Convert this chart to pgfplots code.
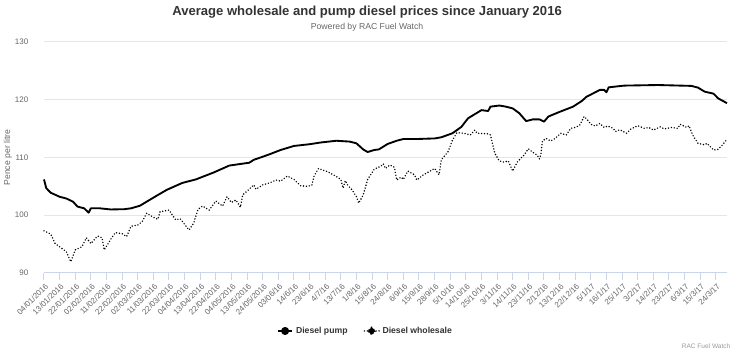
\documentclass[border=0pt]{standalone}
\usepackage{fontspec}
\setmainfont{Liberation Sans}
\usepackage{pgfplots}
\pgfplotsset{compat=1.18}
\definecolor{titlec}{HTML}{333333}
\definecolor{tickc}{HTML}{666666}
\definecolor{gridc}{HTML}{E6E6E6}
\definecolor{axisc}{HTML}{CCD6EB}
\definecolor{credc}{HTML}{999999}
\begin{document}
\begin{tikzpicture}
\begin{axis}[
  scale only axis, width=512.25pt, height=173.25pt,
  xmin=0, xmax=306, ymin=90, ymax=130,
  xtick={0,7,...,301},
  xticklabels={04/01/2016,13/01/2016,22/01/2016,02/02/2016,11/02/2016,22/02/2016,02/03/2016,11/03/2016,22/03/2016,04/04/2016,13/04/2016,22/04/2016,04/05/2016,13/05/2016,24/05/2016,03/06/16,14/6/16,23/6/16,4/7/16,13/7/16,1/8/16,15/8/16,24/8/16,6/9/16,15/9/16,28/9/16,5/10/16,14/10/16,25/10/16,3/11/16,14/11/16,23/11/16,2/12/16,13/12/16,22/12/16,5/1/17,16/1/17,25/1/17,3/2/17,14/2/17,23/2/17,6/3/17,15/3/17,24/3/17},
  ytick={90,100,...,130},
  axis x line*=bottom, axis y line*=left,
  y axis line style={draw=none},
  x axis line style={draw=axisc, line width=0.75pt, -},
  xtick style={draw=axisc, line width=0.75pt},
  ytick style={draw=none},
  tick align=outside,
  major tick length=5.25pt,
  ymajorgrids, grid style={draw=gridc, line width=0.75pt},
  xticklabel style={rotate=45, anchor=east, font=\fontsize{6}{7}\selectfont, text=tickc, inner sep=1pt, yshift=-4pt},
  yticklabel style={font=\fontsize{6}{7}\selectfont, text=tickc, xshift=-3pt},
  /pgf/number format/assume math mode=true,
  clip=false,
  legend columns=2,
  legend style={at={(0.471,-0.251)}, anchor=center, draw=none, fill=none,
    font=\fontsize{6.5}{8}\selectfont\bfseries, text=titlec,
    /tikz/every even column/.append style={column sep=10pt}},
]
\addplot[black, line width=1.4pt, line join=round,
  legend image code/.code={\draw[black, line width=1.4pt] (0pt,0pt) -- (11pt,0pt); \fill[black] (5.5pt,0pt) circle (2.3pt);}]
coordinates {
(0,106.2)(1,104.7)(3,103.9)(7,103.2)(10,102.9)(13,102.35)(15,101.5)(18,101.2)(20,100.45)(21,101.2)
(25,101.2)(30,101.0)(36,101.05)(39,101.2)(43,101.65)(46,102.35)(51,103.5)(55,104.4)(62,105.6)(68,106.2)
(76,107.4)(83,108.6)(92,109.1)(94,109.6)(97,110.0)(101,110.55)(106,111.3)(112,112.0)(119,112.3)(124,112.6)
(131,112.9)(137,112.75)(140,112.45)(143,111.4)(145,110.95)(148,111.3)(150,111.4)(154,112.35)(158,112.9)(161,113.2)
(167,113.2)(175,113.3)(178,113.5)(183,114.2)(187,115.3)(190,116.8)(196,118.2)(199,118.05)(200,118.8)(204,119.0)
(207,118.8)(210,118.5)(213,117.65)(216,116.3)(219,116.6)(222,116.6)(224,116.2)(226,117.1)(231,117.9)(237,118.8)
(241,119.8)(243,120.5)(249,121.7)(251,121.7)(252,121.3)(253,122.15)(260,122.45)(275,122.55)(290,122.4)(293,122.1)
(296,121.4)(300,121.05)(302,120.25)(306,119.4)
};
\addlegendentry{Diesel pump}
\addplot[black, line width=1.2pt, line cap=round, dash pattern=on 0pt off 2.2pt,
  legend image code/.code={\draw[black, line width=1.2pt, line cap=round, dash pattern=on 0pt off 2.2pt] (0pt,0pt) -- (11pt,0pt); \fill[black] (5.5pt,0pt) +(0,2.8pt) -- +(2.8pt,0) -- +(0,-2.8pt) -- +(-2.8pt,0) -- cycle;}]
coordinates {
(0,97.3)(3,96.75)(5,95.1)(7,94.55)(10,93.7)(12,91.95)(14,94.0)(17,94.55)(19,96.1)(21,95.1)
(24,96.4)(26,96.1)(27,94.0)(30,95.9)(32,97.0)(35,96.8)(37,96.3)(39,98.1)(42,98.3)(44,98.9)
(46,100.35)(49,99.65)(51,99.3)(52,100.6)(56,100.9)(59,99.2)(61,99.4)(65,97.45)(67,98.6)(69,101.0)
(71,101.6)(74,100.9)(77,102.45)(80,101.6)(82,103.2)(84,102.2)(86,102.65)(88,101.4)(89,103.5)(94,105.25)
(95,104.5)(98,105.25)(101,105.6)(104,106.1)(106,105.9)(109,106.8)(112,106.2)(115,105.1)(118,105.0)(120,105.2)
(121,106.8)(123,108.1)(127,107.55)(131,106.7)(133,106.2)(134,104.7)(135,106.0)(136,105.25)(138,104.4)(140,103.2)
(141,102.1)(143,103.5)(145,106.2)(148,108.0)(151,108.5)(152,108.9)(153,108.1)(155,108.7)(157,108.3)(158,106.1)
(160,106.6)(161,106.2)(163,107.65)(166,107.0)(167,106.1)(170,107.0)(173,107.65)(175,108.1)(177,107.0)(178,109.6)
(181,111.0)(183,113.0)(185,114.3)(188,114.2)(191,113.9)(193,114.75)(194,114.2)(199,114.1)(200,113.9)(202,110.7)
(204,109.4)(206,109.2)(208,109.4)(210,107.65)(212,109.2)(215,110.4)(217,111.5)(219,110.9)(221,110.4)(222,109.75)
(222.6,110.55)(223.3,112.85)(225,113.3)(227,112.85)(229,113.3)(231.5,114.2)(234,113.9)(236,115.05)(238,115.2)(240,115.6)
(242,117.1)(243.5,116.5)(245,115.75)(247,115.45)(249,115.9)(251,115.2)(252.5,115.45)(255,115.05)(256,114.5)(258,114.8)
(261,114.2)(263,114.95)(266,115.5)(269,115.05)(271,115.2)(273,114.75)(276,115.3)(278,114.95)(281,115.2)(284,115.05)
(285,115.75)(288,115.2)(289,115.5)(290.6,113.9)(293,112.45)(296,112.2)(297,112.45)(300,111.3)(302,111.4)(304,112.2)
(305.5,112.9)(306,112.85)
};
\addlegendentry{Diesel wholesale}
\node[font=\fontsize{9.8}{11}\selectfont\bfseries, text=titlec] at (rel axis cs:0.473,1.13) {Average wholesale and pump diesel prices since January 2016};
\node[font=\fontsize{6.5}{8}\selectfont, text=tickc] at (rel axis cs:0.473,1.065) {Powered by RAC Fuel Watch};
\node[font=\fontsize{6.5}{8}\selectfont, text=tickc, rotate=90] at (rel axis cs:-0.0527,0.5) {Pence per litre};
\node[font=\fontsize{4.9}{6}\selectfont, text=credc, anchor=east] at (rel axis cs:1.0117,-0.316) {RAC Fuel Watch};
\end{axis}
\pgfresetboundingbox
\path[use as bounding box] ([shift={(-33pt,-62.25pt)}]current axis.south west) rectangle ([shift={(9.75pt,31.5pt)}]current axis.north east);
\end{tikzpicture}
\end{document}
